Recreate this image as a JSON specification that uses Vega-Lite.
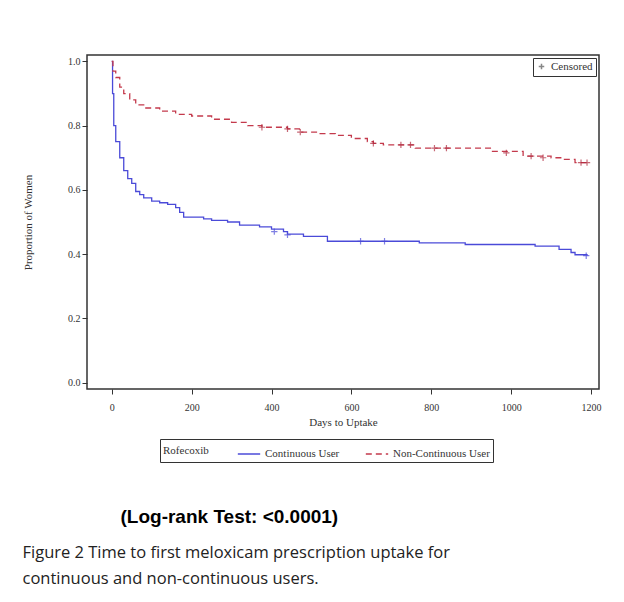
{
  "$schema": "https://vega.github.io/schema/vega-lite/v6.json",
  "width": 512,
  "height": 334,
  "padding": {"left": 22, "top": 55, "right": 10, "bottom": 10},
  "background": "white",
  "config": {
    "font": "Liberation Serif",
    "view": {"stroke": "#333", "strokeWidth": 1.5}
  },
  "title": {
    "text": "\u2800\u2800\u2800\u2800\u2800\u2800\u2800(Log-rank Test: <0.0001)",
    "subtitle": ["Figure 2 Time to first meloxicam prescription uptake for", "continuous and non-continuous users."],
    "orient": "bottom",
    "anchor": "start",
    "frame": "bounds",
    "font": "Liberation Sans",
    "fontSize": 19,
    "fontWeight": "bold",
    "color": "black",
    "offset": 45,
    "subtitleFont": "Open Sans",
    "subtitleFontSize": 16.5,
    "subtitleFontWeight": "normal",
    "subtitleColor": "#222",
    "subtitlePadding": 18,
    "subtitleLineHeight": 26
  },
  "datasets": {
    "curves": [
      {"group": "Continuous User", "day": 0, "surv": 1.0},
      {"group": "Continuous User", "day": 2, "surv": 0.9},
      {"group": "Continuous User", "day": 5, "surv": 0.8},
      {"group": "Continuous User", "day": 10, "surv": 0.75},
      {"group": "Continuous User", "day": 20, "surv": 0.7},
      {"group": "Continuous User", "day": 30, "surv": 0.66},
      {"group": "Continuous User", "day": 40, "surv": 0.635},
      {"group": "Continuous User", "day": 50, "surv": 0.62},
      {"group": "Continuous User", "day": 60, "surv": 0.595},
      {"group": "Continuous User", "day": 70, "surv": 0.585},
      {"group": "Continuous User", "day": 80, "surv": 0.575},
      {"group": "Continuous User", "day": 100, "surv": 0.565},
      {"group": "Continuous User", "day": 120, "surv": 0.56},
      {"group": "Continuous User", "day": 140, "surv": 0.555},
      {"group": "Continuous User", "day": 160, "surv": 0.545},
      {"group": "Continuous User", "day": 170, "surv": 0.53},
      {"group": "Continuous User", "day": 180, "surv": 0.515},
      {"group": "Continuous User", "day": 230, "surv": 0.51},
      {"group": "Continuous User", "day": 250, "surv": 0.505},
      {"group": "Continuous User", "day": 290, "surv": 0.5},
      {"group": "Continuous User", "day": 320, "surv": 0.49},
      {"group": "Continuous User", "day": 370, "surv": 0.485},
      {"group": "Continuous User", "day": 400, "surv": 0.478},
      {"group": "Continuous User", "day": 430, "surv": 0.47},
      {"group": "Continuous User", "day": 440, "surv": 0.462},
      {"group": "Continuous User", "day": 480, "surv": 0.455},
      {"group": "Continuous User", "day": 540, "surv": 0.44},
      {"group": "Continuous User", "day": 720, "surv": 0.44},
      {"group": "Continuous User", "day": 770, "surv": 0.435},
      {"group": "Continuous User", "day": 885, "surv": 0.43},
      {"group": "Continuous User", "day": 1060, "surv": 0.425},
      {"group": "Continuous User", "day": 1120, "surv": 0.415},
      {"group": "Continuous User", "day": 1150, "surv": 0.405},
      {"group": "Continuous User", "day": 1160, "surv": 0.398},
      {"group": "Continuous User", "day": 1190, "surv": 0.395},
      {"group": "Non-Continuous User", "day": 0, "surv": 1.0},
      {"group": "Non-Continuous User", "day": 3, "surv": 0.97},
      {"group": "Non-Continuous User", "day": 10, "surv": 0.95},
      {"group": "Non-Continuous User", "day": 20, "surv": 0.92},
      {"group": "Non-Continuous User", "day": 30, "surv": 0.9},
      {"group": "Non-Continuous User", "day": 45, "surv": 0.88},
      {"group": "Non-Continuous User", "day": 60, "surv": 0.865},
      {"group": "Non-Continuous User", "day": 80, "surv": 0.855},
      {"group": "Non-Continuous User", "day": 120, "surv": 0.845},
      {"group": "Non-Continuous User", "day": 160, "surv": 0.835},
      {"group": "Non-Continuous User", "day": 200, "surv": 0.83},
      {"group": "Non-Continuous User", "day": 250, "surv": 0.82},
      {"group": "Non-Continuous User", "day": 300, "surv": 0.81},
      {"group": "Non-Continuous User", "day": 340, "surv": 0.8},
      {"group": "Non-Continuous User", "day": 376, "surv": 0.795},
      {"group": "Non-Continuous User", "day": 440, "surv": 0.79},
      {"group": "Non-Continuous User", "day": 470, "surv": 0.78},
      {"group": "Non-Continuous User", "day": 520, "surv": 0.775},
      {"group": "Non-Continuous User", "day": 560, "surv": 0.77},
      {"group": "Non-Continuous User", "day": 600, "surv": 0.76},
      {"group": "Non-Continuous User", "day": 640, "surv": 0.75},
      {"group": "Non-Continuous User", "day": 655, "surv": 0.745},
      {"group": "Non-Continuous User", "day": 680, "surv": 0.74},
      {"group": "Non-Continuous User", "day": 760, "surv": 0.73},
      {"group": "Non-Continuous User", "day": 950, "surv": 0.72},
      {"group": "Non-Continuous User", "day": 1030, "surv": 0.705},
      {"group": "Non-Continuous User", "day": 1100, "surv": 0.7},
      {"group": "Non-Continuous User", "day": 1130, "surv": 0.695},
      {"group": "Non-Continuous User", "day": 1160, "surv": 0.685},
      {"group": "Non-Continuous User", "day": 1190, "surv": 0.685}
    ],
    "censored": [
      {"group": "Continuous User", "day": 407, "surv": 0.47, "mark": "Censored"},
      {"group": "Continuous User", "day": 440, "surv": 0.46, "mark": "Censored"},
      {"group": "Continuous User", "day": 623, "surv": 0.44, "mark": "Censored"},
      {"group": "Continuous User", "day": 683, "surv": 0.44, "mark": "Censored"},
      {"group": "Continuous User", "day": 1188, "surv": 0.395, "mark": "Censored"},
      {"group": "Non-Continuous User", "day": 376, "surv": 0.795, "mark": "Censored"},
      {"group": "Non-Continuous User", "day": 440, "surv": 0.79, "mark": "Censored"},
      {"group": "Non-Continuous User", "day": 472, "surv": 0.78, "mark": "Censored"},
      {"group": "Non-Continuous User", "day": 655, "surv": 0.745, "mark": "Censored"},
      {"group": "Non-Continuous User", "day": 724, "surv": 0.74, "mark": "Censored"},
      {"group": "Non-Continuous User", "day": 748, "surv": 0.74, "mark": "Censored"},
      {"group": "Non-Continuous User", "day": 808, "surv": 0.73, "mark": "Censored"},
      {"group": "Non-Continuous User", "day": 838, "surv": 0.73, "mark": "Censored"},
      {"group": "Non-Continuous User", "day": 988, "surv": 0.715, "mark": "Censored"},
      {"group": "Non-Continuous User", "day": 1050, "surv": 0.705, "mark": "Censored"},
      {"group": "Non-Continuous User", "day": 1080, "surv": 0.7, "mark": "Censored"},
      {"group": "Non-Continuous User", "day": 1175, "surv": 0.685, "mark": "Censored"},
      {"group": "Non-Continuous User", "day": 1190, "surv": 0.685, "mark": "Censored"}
    ]
  },
  "encoding": {
    "x": {
      "field": "day", "type": "quantitative",
      "scale": {"domain": [-62, 1220], "nice": false},
      "axis": {"title": "Days to Uptake", "values": [0, 200, 400, 600, 800, 1000, 1200], "format": "d", "grid": false,
        "labelFont": "Liberation Serif", "labelFontSize": 10, "titleFont": "Liberation Serif", "titleFontSize": 11,
        "titleFontWeight": "normal", "labelColor": "#333", "titleColor": "#333", "domain": false, "tickColor": "#333", "labelPadding": 8}
    },
    "y": {
      "field": "surv", "type": "quantitative",
      "scale": {"domain": [-0.02, 1.02], "nice": false},
      "axis": {"title": "Proportion of Women", "values": [0, 0.2, 0.4, 0.6, 0.8, 1.0], "format": ".1f", "grid": false,
        "labelFont": "Liberation Serif", "labelFontSize": 10, "titleFont": "Liberation Serif", "titleFontSize": 11,
        "titleFontWeight": "normal", "labelColor": "#333", "titleColor": "#333", "domain": false, "tickColor": "#333", "titlePadding": 34}
    }
  },
  "layer": [
    {
      "data": {"name": "curves"},
      "mark": {"type": "line", "interpolate": "step-after", "strokeWidth": 1.3},
      "encoding": {
        "color": {"field": "group", "type": "nominal",
          "scale": {"domain": ["Continuous User", "Non-Continuous User"], "range": ["#4a4ad8", "#c43a4c"]},
          "legend": {"orient": "none", "legendX": 73, "legendY": 384, "direction": "horizontal", "title": "Rofecoxib", "titleOrient": "left",
            "titleFont": "Liberation Serif", "titleFontWeight": "normal", "titleFontSize": 11, "titlePadding": 28, "titleBaseline": "middle", "titleAnchor": "middle",
            "labelFont": "Liberation Serif", "labelFontSize": 11, "labelColor": "#333", "titleColor": "#333",
            "strokeColor": "#333", "padding": 3, "symbolType": "stroke", "symbolSize": 500, "symbolStrokeWidth": 1.5,
            "columnPadding": 22}},
        "strokeDash": {"field": "group", "type": "nominal",
          "scale": {"domain": ["Continuous User", "Non-Continuous User"], "range": [[1, 0], [6, 4]]},
          "legend": null}
      }
    },
    {
      "data": {"name": "censored"},
      "mark": {"type": "point", "filled": false, "size": 40, "strokeWidth": 1.2},
      "encoding": {
        "shape": {"field": "mark", "type": "nominal",
          "scale": {"range": ["M-1,0H1M0,-1V1"]},
          "legend": {"orient": "top-right", "title": null, "strokeColor": "#333", "padding": 3, "offset": 3,
            "labelFont": "Liberation Serif", "labelFontSize": 11, "labelColor": "#333", "symbolStrokeColor": "#555", "symbolSize": 30, "symbolOffset": 0}},
        "stroke": {"field": "group", "type": "nominal",
          "scale": {"domain": ["Continuous User", "Non-Continuous User"], "range": ["#4a4ad8", "#b02a3e"]},
          "legend": null}
      }
    }
  ]
}
